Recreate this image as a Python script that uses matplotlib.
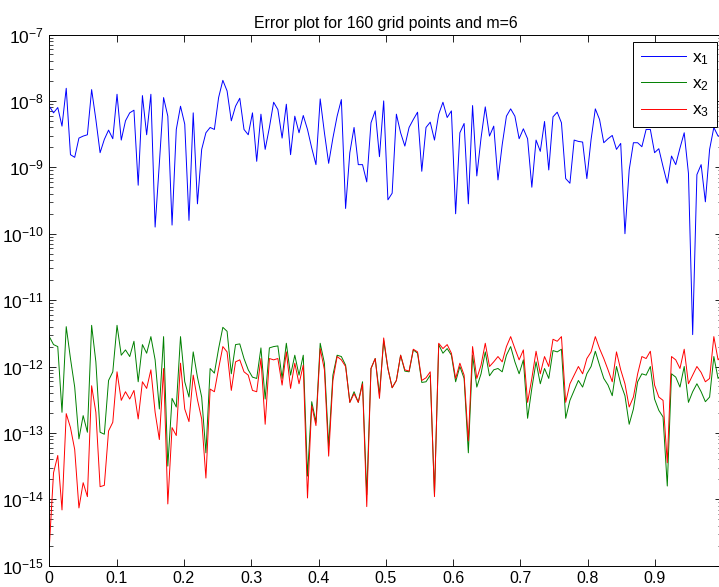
"""
Error plot of the three solution components on a 160-point grid (m=6).
Log-scale y axis, MATLAB-like boxed axes with inward ticks.
"""

import matplotlib

matplotlib.use("Agg")
import matplotlib.pyplot as plt  # noqa: E402
import numpy as np

plt.rcParams["font.family"] = ["Liberation Sans", "DejaVu Sans"]
plt.rcParams["mathtext.fontset"] = "custom"
plt.rcParams["mathtext.rm"] = "Liberation Sans"
plt.rcParams["mathtext.it"] = "Liberation Sans"
plt.rcParams["mathtext.default"] = "regular"

# ---------------------------------------------------------------------------
# Data: log10 of the absolute error at each grid point
# ---------------------------------------------------------------------------

N_POINTS = 160
TITLE = "Error plot for 160 grid points and m=6"
LABELS = ["x$_1$", "x$_2$", "x$_3$"]
X_TICKS = [0, 0.1, 0.2, 0.3, 0.4, 0.5, 0.6, 0.7, 0.8, 0.9]
X_TICK_LABELS = ["0", "0.1", "0.2", "0.3", "0.4", "0.5", "0.6", "0.7", "0.8", "0.9"]

log_err_x1 = [
    -8.08, -8.18, -8.10, -8.38, -7.81, -8.81, -8.85, -8.56, -8.53, -8.51,
    -7.83, -8.28, -8.78, -8.58, -8.44, -8.57, -7.90, -8.59, -8.30, -8.18,
    -8.14, -9.27, -7.92, -8.51, -7.90, -9.90, -8.94, -7.95, -8.23, -9.87,
    -8.43, -8.08, -8.35, -9.80, -8.18, -9.55, -8.73, -8.48, -8.40, -8.43,
    -7.95, -7.69, -7.85, -8.30, -8.08, -7.96, -8.43, -8.51, -8.18, -8.91,
    -8.20, -8.73, -8.40, -8.02, -8.13, -8.56, -8.05, -8.81, -8.23, -8.48,
    -8.22, -8.43, -8.71, -8.96, -7.97, -8.48, -8.94, -8.56, -8.23, -7.98,
    -9.62, -8.78, -8.40, -8.96, -8.96, -9.22, -8.33, -8.15, -8.84, -8.00,
    -9.49, -9.39, -8.20, -8.48, -8.68, -8.40, -8.28, -8.17, -9.06, -8.40,
    -8.32, -8.59, -8.20, -8.02, -8.25, -8.15, -9.70, -8.48, -8.34, -9.55,
    -8.07, -9.13, -8.56, -8.09, -8.53, -8.38, -9.19, -8.66, -8.23, -8.12,
    -8.23, -8.57, -8.42, -8.57, -9.30, -8.59, -8.76, -8.31, -9.04, -8.24,
    -8.17, -8.33, -9.17, -9.24, -8.59, -8.61, -8.62, -9.17, -8.58, -8.12,
    -8.28, -8.63, -8.57, -8.52, -8.73, -8.64, -10.00, -9.04, -8.63, -8.63,
    -8.69, -8.43, -8.43, -8.78, -8.72, -8.99, -9.24, -8.83, -8.96, -8.71,
    -8.48, -9.09, -11.52, -9.11, -8.96, -9.52, -8.73, -8.40, -8.53, -8.51,
]

log_err_x2 = [
    -11.55, -11.67, -11.70, -12.69, -11.40, -11.88, -12.31, -13.09, -12.74, -12.99,
    -11.38, -11.93, -12.99, -13.02, -12.21, -12.08, -11.38, -11.83, -11.75, -11.85,
    -11.62, -12.23, -11.67, -11.80, -11.55, -11.90, -12.64, -11.55, -13.50, -12.48,
    -12.61, -11.55, -12.23, -12.46, -11.78, -12.16, -12.46, -13.30, -12.03, -12.10,
    -11.73, -11.41, -11.47, -12.11, -11.67, -11.66, -11.88, -12.05, -12.16, -12.18,
    -11.72, -12.49, -11.72, -11.70, -11.69, -12.18, -11.65, -12.13, -11.83, -12.13,
    -11.83, -13.65, -12.53, -12.84, -11.65, -11.95, -13.20, -12.13, -11.83, -11.85,
    -11.98, -12.54, -12.38, -12.54, -12.23, -13.93, -12.03, -11.88, -12.42, -11.61,
    -12.03, -12.32, -12.21, -11.83, -12.07, -12.08, -11.75, -11.80, -12.24, -12.23,
    -12.13, -13.93, -11.67, -11.80, -11.73, -11.83, -12.23, -12.00, -12.18, -13.30,
    -11.83, -12.31, -12.11, -11.78, -12.14, -12.05, -12.03, -12.08, -11.83, -11.70,
    -11.93, -12.11, -11.90, -12.78, -12.33, -11.93, -12.26, -12.03, -12.18, -11.76,
    -11.78, -11.74, -12.78, -12.51, -12.36, -12.21, -12.31, -12.11, -12.00, -11.77,
    -11.98, -12.18, -12.28, -12.44, -12.00, -12.26, -12.44, -12.87, -12.64, -12.23,
    -12.11, -12.13, -12.00, -12.49, -12.66, -12.76, -13.80, -12.11, -12.16, -12.31,
    -12.00, -12.54, -12.38, -12.26, -12.38, -12.53, -12.46, -11.85, -12.18, -12.11,
]

log_err_x3 = [
    -14.72, -13.60, -13.34, -14.16, -12.71, -12.92, -13.25, -14.13, -13.75, -13.96,
    -12.29, -12.69, -13.81, -13.79, -12.97, -12.84, -12.08, -12.51, -12.38, -12.49,
    -12.36, -12.79, -12.23, -12.33, -12.05, -12.69, -13.10, -12.03, -14.07, -12.92,
    -13.04, -11.95, -12.64, -12.83, -12.13, -12.50, -12.79, -13.68, -12.34, -12.38,
    -12.03, -11.70, -11.78, -12.36, -11.93, -11.90, -12.08, -12.13, -12.36, -12.38,
    -11.88, -12.87, -11.88, -11.90, -11.88, -12.28, -11.78, -12.33, -11.95, -12.26,
    -11.98, -13.98, -12.59, -12.89, -11.73, -12.05, -13.35, -12.21, -11.85, -11.90,
    -12.00, -12.54, -12.41, -12.54, -12.26, -14.11, -12.03, -11.88, -12.48, -11.57,
    -12.03, -12.32, -12.21, -11.83, -12.05, -12.07, -11.74, -11.78, -12.21, -12.17,
    -12.08, -13.96, -11.65, -11.73, -11.67, -11.80, -12.18, -11.95, -12.13, -13.12,
    -11.70, -12.18, -11.98, -11.65, -12.00, -11.93, -11.85, -11.93, -11.70, -11.55,
    -11.73, -11.90, -11.75, -12.54, -12.18, -11.77, -12.11, -11.85, -12.00, -11.59,
    -11.62, -11.55, -12.54, -12.26, -12.13, -12.00, -12.11, -11.88, -11.78, -11.55,
    -11.73, -11.88, -12.05, -12.23, -11.78, -12.05, -12.26, -12.61, -12.46, -12.11,
    -11.85, -11.88, -11.77, -12.28, -12.46, -12.51, -13.45, -11.85, -11.90, -12.03,
    -11.74, -12.26, -12.13, -12.00, -12.09, -12.23, -12.18, -11.55, -11.90, -11.83,
]

COLORS = ["#0000ff", "#008000", "#ff0000"]


def main() -> None:
    x = np.linspace(0.0, 1.0, N_POINTS)
    series = [log_err_x1, log_err_x2, log_err_x3]

    fig = plt.figure(figsize=(7.19, 5.87), dpi=100)
    # axes box runs a little past the right edge of the canvas
    ax = fig.add_axes([49.3 / 719, 1 - 565.7 / 587, 673 / 719, 531.2 / 587])

    for logs, color, label in zip(series, COLORS, LABELS):
        ax.plot(x, 10.0 ** np.asarray(logs), color=color, linewidth=0.7, label=label)

    ax.set_yscale("log")
    ax.set_xlim(0, 1)
    ax.set_ylim(1e-15, 1e-7)
    ax.set_xticks(X_TICKS)
    ax.set_xticklabels(X_TICK_LABELS)
    ax.set_yticks([10.0 ** k for k in range(-15, -6)])

    ax.tick_params(which="both", direction="in", top=True, right=True, colors="black")
    ax.tick_params(which="major", length=5, width=0.6)
    ax.tick_params(which="minor", length=3, width=0.5)
    ax.tick_params(axis="x", labelsize=11.5, pad=4)
    ax.tick_params(axis="y", labelsize=12.5, pad=4)
    for spine in ax.spines.values():
        spine.set_linewidth(0.7)

    ax.set_title(TITLE, fontsize=11.4, pad=5)

    leg = ax.legend(
        loc="upper right",
        bbox_to_anchor=(717 / 719, 1 - 42 / 587),
        bbox_transform=fig.transFigure,
        borderaxespad=0,
        fancybox=False,
        framealpha=1,
        edgecolor="black",
        fontsize=12.5,
        handlelength=2.6,
        handletextpad=0.35,
        labelspacing=0.55,
        borderpad=0.45,
    )
    leg.get_frame().set_linewidth(0.7)

    fig.savefig("out.png", dpi=100)
    plt.close(fig)


if __name__ == "__main__":
    main()
